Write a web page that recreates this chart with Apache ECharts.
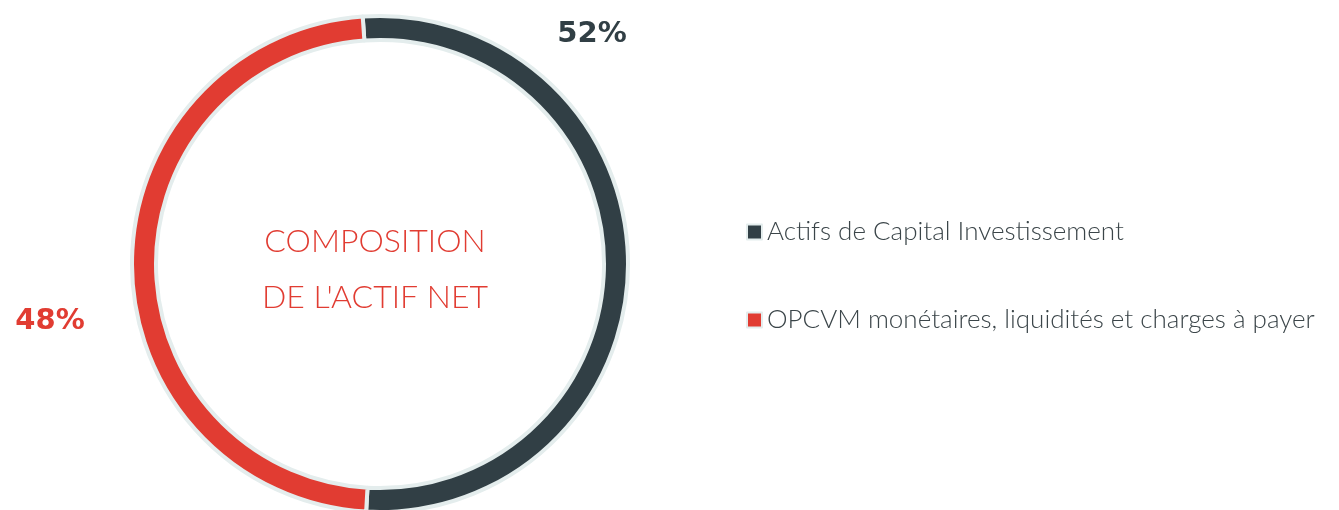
<!DOCTYPE html>
<html>
<head>
<meta charset="utf-8">
<script src="https://cdn.jsdelivr.net/npm/echarts@6/dist/echarts.min.js"></script>
<style>
  html, body { margin: 0; padding: 0; background: #fff; }
  #container { width: 1339px; height: 510px; }
</style>
</head>
<body>
<div id="container"></div>
<script type="text/javascript">
    // données
    var categories = ['Actifs de Capital Investissement', 'OPCVM monétaires, liquidités et charges à payer'];
    var values = [52, 48];
    var centerLines = ['COMPOSITION', "DE L'ACTIF NET"];

    var colors = ['#313f45', '#e13c32'];
    var labelPos = [[592, 34], [50, 321]];

    var dom = document.getElementById("container");
    var myChart = echarts.init(dom);
    var option;

    option = {
        animation: false,
        color: colors,
        graphic: [{
            type: 'text',
            x: 375,
            y: 270,
            style: {
                text: centerLines.join('\n'),
                fill: '#e13c32',
                font: '300 32px Lato',
                lineHeight: 56,
                align: 'center',
                verticalAlign: 'middle'
            }
        }],
        legend: {
            orient: 'vertical',
            left: 741,
            top: 214,
            itemWidth: 15,
            itemHeight: 15,
            itemGap: 62,
            icon: 'rect',
            textStyle: {
                color: '#3b4549',
                fontFamily: 'Lato',
                fontSize: 26,
                fontWeight: 300
            },
            data: categories
        },
        series: [
            {
                name: 'composition',
                type: 'pie',
                center: [380, 264],
                radius: [224, 248],
                startAngle: 94,
                clockwise: true,
                itemStyle: {
                    borderColor: '#e4eded',
                    borderWidth: 4
                },
                label: {
                    show: true,
                    formatter: '{c}%',
                    fontFamily: 'DejaVu Sans',
                    fontWeight: 'bold',
                    fontSize: 29
                },
                labelLine: { show: false },
                labelLayout: function (params) {
                    var p = labelPos[params.dataIndex];
                    return { x: p[0], y: p[1], align: 'center', verticalAlign: 'middle' };
                },
                emphasis: { disabled: true },
                data: categories.map(function (name, i) {
                    return { value: values[i], name: name, label: { color: colors[i] } };
                })
            }
        ]
    };

    if (option && typeof option === 'object') {
        myChart.setOption(option);
    }
</script>
</body>
</html>
